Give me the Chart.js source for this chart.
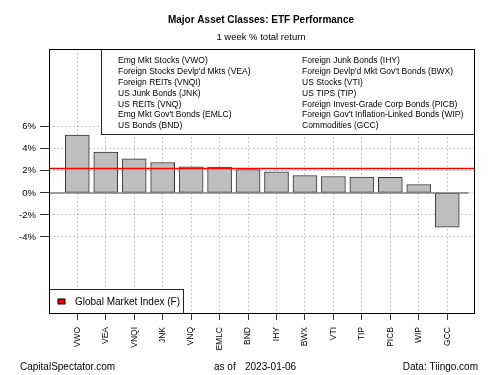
<!DOCTYPE html>
<html>
<head>
<meta charset="utf-8">
<script src="https://cdn.jsdelivr.net/npm/chart.js@4/dist/chart.umd.min.js"></script>
<style>
  html, body { margin: 0; padding: 0; background: #fff; }
  #wrap { width: 500px; height: 375px; }
</style>
</head>
<body>
<div id="wrap"><canvas id="chart" width="500" height="375"></canvas></div>
<script>
// values (1 week % total return)
const tickers = ['VWO', 'VEA', 'VNQI', 'JNK', 'VNQ', 'EMLC', 'BND', 'IHY', 'BWX', 'VTI', 'TIP', 'PICB', 'WIP', 'GCC'];
const returns = [5.25, 3.70, 3.09, 2.76, 2.36, 2.35, 2.12, 1.91, 1.58, 1.49, 1.43, 1.42, 0.76, -3.12];
const gmiReturn = 2.22;
const yTicks = [-4, -2, 0, 2, 4, 6];
const namesLeft = [
  'Emg Mkt Stocks (VWO)',
  "Foreign Stocks Devlp'd Mkts (VEA)",
  'Foreign REITs (VNQI)',
  'US Junk Bonds (JNK)',
  'US REITs (VNQ)',
  "Emg Mkt Gov't Bonds (EMLC)",
  'US Bonds (BND)'
];
const namesRight = [
  'Foreign Junk Bonds (IHY)',
  "Foreign Devlp'd Mkt Gov't Bonds (BWX)",
  'US Stocks (VTI)',
  'US TIPS (TIP)',
  'Foreign Invest-Grade Corp Bonds (PICB)',
  "Foreign Gov't Inflation-Linked Bonds (WIP)",
  'Commodities (GCC)'
];
const gmiLabel = 'Global Market Index (F)';
const titleText = 'Major Asset Classes: ETF Performance';
const subtitleText = '1 week % total return';
const asOfDate = '2023-01-06';

const FONT = '"Liberation Sans", Arial, Helvetica, sans-serif';
const xMin = -0.994, xMax = 13.94;
const yMin = -10.9, yMax = 13.06;

const decorations = {
  id: 'decorations',
  beforeDatasetsDraw(chart) {
    const { ctx, chartArea: a } = chart;
    ctx.save();
    // legend box with the fund names
    ctx.fillStyle = '#fff';
    ctx.fillRect(a.left + 52, a.top, a.right - a.left - 52, 85);
    ctx.strokeStyle = '#222';
    ctx.lineWidth = 1;
    ctx.strokeRect(a.left + 52.5, a.top + 0.5, a.right - a.left - 52, 85);
    ctx.fillStyle = '#000';
    ctx.font = '8.5px ' + FONT;
    ctx.textBaseline = 'middle';
    ctx.textAlign = 'left';
    namesLeft.forEach((t, i) => ctx.fillText(t, a.left + 69, a.top + 12 + i * 10.8));
    namesRight.forEach((t, i) => ctx.fillText(t, a.left + 253, a.top + 12 + i * 10.8));

    // GMI legend bottom left
    ctx.fillStyle = '#fff';
    ctx.fillRect(a.left, a.bottom - 24, 134, 24);
    ctx.strokeStyle = '#222';
    ctx.strokeRect(a.left + 0.5, a.bottom - 23.5, 134, 24);
    ctx.fillStyle = 'red';
    ctx.fillRect(a.left + 9, a.bottom - 14, 7, 5);
    ctx.strokeStyle = '#000';
    ctx.strokeRect(a.left + 9, a.bottom - 14, 7, 5);
    ctx.fillStyle = '#000';
    ctx.font = '10px ' + FONT;
    ctx.fillText(gmiLabel, a.left + 26, a.bottom - 10.5);
    ctx.restore();
  },
  afterDatasetsDraw(chart) {
    const { ctx, chartArea: a, scales } = chart;
    ctx.save();
    // zero line
    const y0 = scales.y.getPixelForValue(0);
    ctx.strokeStyle = '#7f7f7f';
    ctx.lineWidth = 1.5;
    ctx.beginPath();
    ctx.moveTo(a.left, y0);
    ctx.lineTo(scales.x.getPixelForValue(13.75), y0);
    ctx.stroke();
    ctx.restore();
  },
  afterDraw(chart) {
    const { ctx, chartArea: a } = chart;
    ctx.save();
    ctx.strokeStyle = '#000';
    ctx.lineWidth = 1;
    ctx.strokeRect(a.left + 0.5, a.top + 0.5, a.right - a.left, a.bottom - a.top);

    ctx.fillStyle = '#000';
    ctx.textBaseline = 'middle';
    ctx.textAlign = 'center';
    ctx.font = 'bold 10px ' + FONT;
    ctx.fillText(titleText, 261, 20);
    ctx.font = '9.5px ' + FONT;
    ctx.fillText(subtitleText, 261, 37);

    ctx.font = '10px ' + FONT;
    ctx.textAlign = 'left';
    ctx.fillText('CapitalSpectator.com', 20, 367);
    ctx.fillText('as of', 214, 367);
    ctx.fillText(asOfDate, 245, 367);
    ctx.textAlign = 'right';
    ctx.fillText('Data: Tiingo.com', 478, 367);
    ctx.restore();
  }
};

new Chart(document.getElementById('chart'), {
  data: {
    datasets: [
      {
        type: 'line',
        label: gmiLabel,
        data: [{ x: xMin, y: gmiReturn }, { x: xMax, y: gmiReturn }],
        borderColor: '#ff0000',
        borderWidth: 1.6,
        pointRadius: 0,
        order: 1
      },
      {
        type: 'bar',
        label: 'returns',
        data: tickers.map((t, i) => ({ x: i, y: returns[i] })),
        backgroundColor: '#bebebe',
        borderColor: '#333333',
        borderWidth: 1,
        borderSkipped: false,
        barThickness: 24,
        order: 2
      }
    ]
  },
  options: {
    responsive: false,
    devicePixelRatio: 1,
    animation: false,
    layout: { padding: { left: 0, right: 26, top: 49, bottom: 0 } },
    plugins: {
      legend: { display: false },
      tooltip: { enabled: false }
    },
    scales: {
      x: {
        type: 'linear',
        min: xMin,
        max: xMax,
        offset: false,
        afterBuildTicks: (scale) => { scale.ticks = tickers.map((t, i) => ({ value: i })); },
        afterFit: (scale) => { scale.height = 62; },
        ticks: {
          autoSkip: false,
          minRotation: 90,
          maxRotation: 90,
          padding: 7,
          color: '#000',
          font: { family: FONT, size: 8.5 },
          callback: (v) => tickers[v] ?? ''
        },
        grid: {
          offset: false,
          color: '#c8c8c8',
          tickLength: 7,
          tickColor: '#333',
          tickBorderDash: []
        },
        border: { display: false, dash: [2, 2] }
      },
      y: {
        type: 'linear',
        min: yMin,
        max: yMax,
        afterBuildTicks: (scale) => { scale.ticks = yTicks.map(v => ({ value: v })); },
        afterFit: (scale) => { scale.width = 49; },
        ticks: {
          padding: 4,
          color: '#000',
          font: { family: FONT, size: 9.5 },
          callback: (v) => v + '%'
        },
        grid: {
          color: '#c8c8c8',
          tickLength: 9,
          tickColor: '#333',
          tickBorderDash: []
        },
        border: { display: false, dash: [2, 2] }
      }
    }
  },
  plugins: [decorations]
});
</script>
</body>
</html>
